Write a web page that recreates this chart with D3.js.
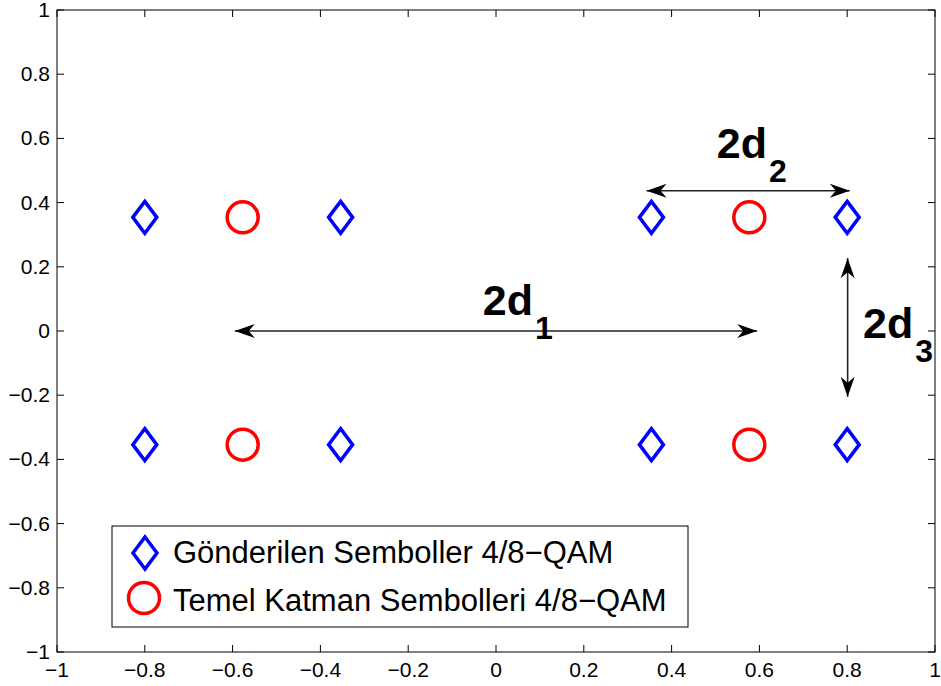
<!DOCTYPE html>
<html>
<head>
<meta charset="utf-8">
<script src="https://cdn.jsdelivr.net/npm/d3@7"></script>
<style>
  body { margin: 0; background: #fff; }
  text { font-family: "Liberation Sans", Arial, Helvetica, sans-serif; }
</style>
</head>
<body>
<svg id="chart" width="941" height="686"></svg>
<script>
// constellation points
const sentSymbols = [
  [-0.8, 0.354], [-0.354, 0.354], [0.354, 0.354], [0.8, 0.354],
  [-0.8, -0.354], [-0.354, -0.354], [0.354, -0.354], [0.8, -0.354]
]
const baseSymbols = [
  [-0.577, 0.354], [0.577, 0.354],
  [-0.577, -0.354], [0.577, -0.354]
]
const xTicks = [-1, -0.8, -0.6, -0.4, -0.2, 0, 0.2, 0.4, 0.6, 0.8, 1]
const yTicks = [-1, -0.8, -0.6, -0.4, -0.2, 0, 0.2, 0.4, 0.6, 0.8, 1]
// double arrows (data coords)
const arrows = [
  { x1: -0.595, y1: 0, x2: 0.595, y2: 0 },
  { x1: 0.343, y1: 0.437, x2: 0.806, y2: 0.437 },
  { x1: 0.801, y1: 0.227, x2: 0.801, y2: -0.205 }
]
const labels = [
  { x: -0.03, y: 0.05, main: '2d', sub: '1' },
  { x: 0.503, y: 0.539, main: '2d', sub: '2' },
  { x: 0.836, y: -0.022, main: '2d', sub: '3' }
]
const legendItems = ['Gönderilen Semboller 4/8\u2212QAM', 'Temel Katman Sembolleri 4/8\u2212QAM']

const margin = { top: 10, right: 6, bottom: 34, left: 57 }
const W = 941, H = 686
const width = W - margin.left - margin.right
const height = H - margin.top - margin.bottom

const svg = d3.select('#chart')
const g = svg.append('g').attr('transform', `translate(${margin.left},${margin.top})`)

const x = d3.scaleLinear().domain([-1, 1]).range([0, width])
const y = d3.scaleLinear().domain([-1, 1]).range([height, 0])

const fmt = d => (d < 0 ? '\u2212' : '') + d3.format('')(Math.abs(d))

// frame
g.append('rect').attr('width', width).attr('height', height)
  .attr('fill', '#fff').attr('stroke', '#000').attr('stroke-width', 1)

// ticks, mirrored on all four sides
const tl = 7
xTicks.forEach(t => {
  g.append('line').attr('x1', x(t)).attr('x2', x(t)).attr('y1', height).attr('y2', height - tl).attr('stroke', '#000')
  g.append('line').attr('x1', x(t)).attr('x2', x(t)).attr('y1', 0).attr('y2', tl).attr('stroke', '#000')
  g.append('text').attr('x', x(t)).attr('y', height + 25).attr('text-anchor', 'middle')
    .attr('font-size', 21).text(fmt(t))
})
yTicks.forEach(t => {
  g.append('line').attr('y1', y(t)).attr('y2', y(t)).attr('x1', 0).attr('x2', tl).attr('stroke', '#000')
  g.append('line').attr('y1', y(t)).attr('y2', y(t)).attr('x1', width).attr('x2', width - tl).attr('stroke', '#000')
  g.append('text').attr('x', -7).attr('y', y(t) + 7).attr('text-anchor', 'end')
    .attr('font-size', 21).text(fmt(t))
})

// markers
const diamond = (cx, cy) => `M${cx},${cy - 16}L${cx + 12},${cy}L${cx},${cy + 16}L${cx - 12},${cy}Z`

g.selectAll('path.sent').data(sentSymbols).enter().append('path')
  .attr('class', 'sent')
  .attr('d', d => diamond(x(d[0]), y(d[1])))
  .attr('fill', 'none').attr('stroke', '#0000ff').attr('stroke-width', 3.5)

g.selectAll('circle.base').data(baseSymbols).enter().append('circle')
  .attr('class', 'base')
  .attr('cx', d => x(d[0])).attr('cy', d => y(d[1])).attr('r', 15.5)
  .attr('fill', 'none').attr('stroke', '#ff0000').attr('stroke-width', 3.5)

// arrowheads
const head = (tx, ty, ang) => {
  const L = 20, hw = 7, back = 14
  const c = Math.cos(ang), s = Math.sin(ang)
  const pt = (a, b) => [tx - a * c - b * -s, ty - a * s - b * c]
  const p1 = pt(L, hw), p2 = pt(back, 0), p3 = pt(L, -hw)
  return `M${tx},${ty}L${p1}L${p2}L${p3}Z`
}
arrows.forEach(a => {
  const x1 = x(a.x1), y1 = y(a.y1), x2 = x(a.x2), y2 = y(a.y2)
  const ang = Math.atan2(y2 - y1, x2 - x1)
  g.append('line').attr('x1', x1).attr('y1', y1).attr('x2', x2).attr('y2', y2)
    .attr('stroke', '#222').attr('stroke-width', 1.6)
  g.append('path').attr('d', head(x2, y2, ang)).attr('fill', '#000')
  g.append('path').attr('d', head(x1, y1, ang + Math.PI)).attr('fill', '#000')
})

// 2d labels
labels.forEach(l => {
  const t = g.append('text').attr('x', x(l.x)).attr('y', y(l.y))
    .attr('font-size', 43).attr('font-weight', 'bold').attr('fill', '#000')
  t.append('tspan').text(l.main)
  t.append('tspan').attr('dx', 2).attr('dy', 24).attr('font-size', 32).text(l.sub)
})

// legend
const lg = svg.append('g').attr('transform', 'translate(112,526)')
lg.append('rect').attr('width', 576).attr('height', 101)
  .attr('fill', '#fff').attr('stroke', '#000').attr('stroke-width', 1)
lg.append('path').attr('d', diamond(33, 27))
  .attr('fill', 'none').attr('stroke', '#0000ff').attr('stroke-width', 3.5)
lg.append('circle').attr('cx', 32).attr('cy', 72).attr('r', 15.5)
  .attr('fill', 'none').attr('stroke', '#ff0000').attr('stroke-width', 3.5)
legendItems.forEach((txt, i) => {
  lg.append('text').attr('x', 61).attr('y', 37 + i * 48)
    .attr('font-size', 31).text(txt)
})
</script>
</body>
</html>
